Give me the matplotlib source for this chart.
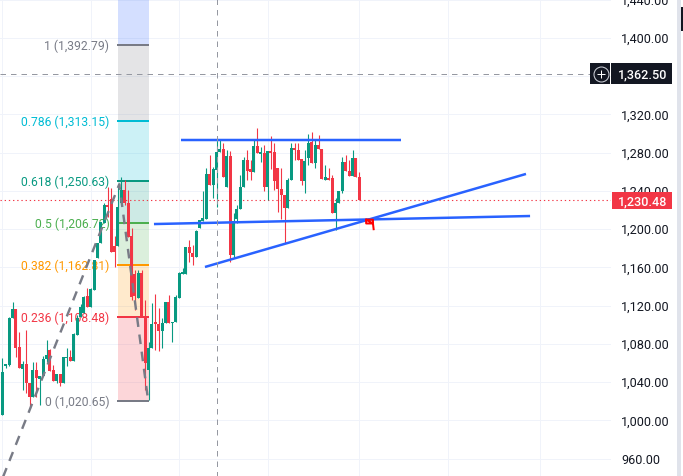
import matplotlib
matplotlib.use("Agg")
import matplotlib.pyplot as plt
from matplotlib.patches import Rectangle
from matplotlib.transforms import blended_transform_factory

plt.rcParams['font.family'] = ['Roboto', 'DejaVu Sans']

opens = [1006, 1057, 1058, 1107, 1117, 1077, 1054, 1059, 1039, 1024.5,
         1053, 1043.5, 1046.5, 1064, 1074, 1053, 1041, 1049, 1039, 1065,
         1066, 1062, 1089, 1108, 1112, 1130, 1119, 1136, 1170, 1186,
         1207, 1225, 1232, 1182.5, 1182.5, 1227, 1241, 1227, 1193, 1153,
         1128, 1154, 1108, 1053, 1076, 1103, 1101, 1093.5, 1102, 1124,
         1102, 1103, 1128, 1153, 1153, 1181, 1175, 1171, 1201, 1209,
         1211, 1258, 1246, 1262, 1281, 1284, 1244, 1277, 1173, 1211,
         1221, 1244, 1272, 1263, 1260, 1287, 1279, 1280, 1244, 1282,
         1281, 1264, 1242, 1236, 1222, 1251.5, 1285, 1283, 1273.5, 1250.5,
         1274.5, 1291, 1269, 1288, 1284, 1251.5, 1254, 1254, 1217, 1227,
         1240, 1270, 1261, 1256, 1274.5, 1255]
closes = [1051, 1059, 1107, 1117, 1076, 1055, 1059, 1039, 1024.5, 1053,
          1044, 1046.5, 1064, 1068.5, 1052, 1041, 1049, 1039, 1066, 1066,
          1062, 1090, 1107, 1119, 1129, 1119, 1137, 1168, 1186, 1208,
          1225, 1223, 1176, 1176, 1223, 1241, 1227, 1192, 1129, 1130,
          1154, 1108, 1060, 1076, 1101, 1101, 1093.5, 1102, 1124, 1102,
          1103, 1129, 1154, 1155, 1181, 1175, 1171, 1198, 1210, 1212,
          1258, 1246, 1263, 1281, 1284, 1255, 1277, 1173, 1209, 1221,
          1244, 1272, 1261, 1260, 1287, 1280, 1281, 1244, 1282, 1280,
          1250.5, 1242, 1236, 1222, 1251.5, 1285, 1283, 1272, 1250.5, 1271,
          1290, 1269, 1288, 1284, 1253, 1255, 1251.5, 1217, 1227, 1240,
          1270, 1261, 1256, 1274.5, 1255, 1230.5]
highs = [1065, 1059, 1108, 1124, 1117, 1092.5, 1062, 1094.5, 1039, 1061,
         1061, 1046.5, 1067.5, 1084, 1075, 1058, 1049, 1049, 1066, 1076,
         1074, 1091, 1110, 1122, 1130, 1138.5, 1138.5, 1168, 1186, 1208,
         1227, 1244, 1243, 1193, 1246, 1255, 1251.5, 1241, 1201, 1157,
         1157, 1157, 1126, 1082, 1123, 1132, 1118, 1107, 1124, 1131,
         1103, 1131, 1155, 1159, 1181, 1189, 1183.5, 1199, 1210, 1240,
         1264, 1278, 1265, 1293, 1293, 1290, 1283, 1282, 1217, 1225,
         1257, 1276, 1283, 1272, 1293, 1306, 1286, 1288, 1282, 1297.5,
         1290, 1264, 1264, 1236, 1254, 1290, 1290, 1290, 1273.5, 1283,
         1300, 1302, 1293, 1299, 1284, 1267, 1264, 1257, 1233, 1240,
         1276, 1278, 1272, 1283, 1274.5, 1260]
lows = [1006, 1055, 1057, 1107, 1066, 1055, 1032, 1029, 1013, 1024.5,
        1024.5, 1016, 1046.5, 1061, 1052, 1041, 1039, 1036, 1039, 1057,
        1062, 1062, 1089, 1108, 1112, 1119, 1119, 1136, 1170, 1186,
        1207, 1213, 1176, 1160.5, 1182.5, 1227, 1225, 1192, 1126, 1115.5,
        1128, 1108, 1032, 1021, 1076, 1074, 1073, 1076, 1102, 1102,
        1082, 1103, 1128, 1153, 1153, 1166, 1163, 1171, 1201, 1209,
        1211, 1246, 1233, 1223, 1281, 1255, 1244, 1166, 1170, 1207,
        1221, 1244, 1251.5, 1251.5, 1260, 1280, 1270, 1240, 1230.5, 1263,
        1241, 1218, 1211, 1186, 1222, 1251.5, 1272, 1272, 1246, 1238,
        1267, 1269, 1264, 1284, 1253, 1251.5, 1251.5, 1217, 1199, 1227,
        1238, 1261, 1256, 1256, 1255, 1230.5]

fib_ratios = ["0", "0.236", "0.382", "0.5", "0.618", "0.786", "1"]
fib_prices = [1020.65, 1108.48, 1162.81, 1206.72, 1250.63, 1313.15, 1392.79]
fib_colors = ["#787b86", "#f23645", "#ff9800", "#4caf50", "#089981", "#00bcd4", "#787b86"]
band_colors = ["#f23645", "#ff9800", "#4caf50", "#089981", "#00bcd4", "#787b86", "#2962ff"]

zigzag_x = [-2, 34.4, 42.9]
zigzag_y = [921, 1247, 1020.65]

top_line_x = [52.6, 117.3]
top_line_y = [1293.3, 1293.3]
mid_line_x = [44.6, 155.2]
mid_line_y = [1205.4, 1213.8]
rise_line_x = [59.6, 154]
rise_line_y = [1160.5, 1257.8]

mark_x = [107, 109, 109, 107, 107, 109, 109.2]
mark_y = [1210, 1210, 1206, 1206, 1210, 1206, 1200]

price_ticks = list(range(960, 1441, 40))
time_grid = [0, 26, 52, 78, 105, 131, 158]
cross_bar = 63
cross_price = 1362.5
last_price = 1230.48

up_col = "#089981"
down_col = "#f23645"
px = 0.72  # one pixel in points at dpi 100

fig = plt.figure(figsize=(6.83, 4.76), dpi=100, facecolor="white")
ax = fig.add_axes([0, -10 / 476, 611 / 683, 496 / 476])
ax.set_xlim(-0.676, 179.0)
ax.set_ylim(931.4, 1450.2)
for s in ax.spines.values():
    s.set_visible(False)

ax.set_xticks(time_grid)
ax.set_yticks(price_ticks)
ax.set_yticklabels([f"{p:,.2f}" for p in price_ticks])
ax.tick_params(axis="x", length=0, labelbottom=False)
ax.tick_params(axis="y", length=0, right=False, left=False, labelleft=False,
               labelright=True, pad=7.5, labelsize=9.1, labelcolor="#131722")
ax.grid(True, color="#f0f3fa", lw=1 * px)
ax.set_axisbelow(True)

# fib bands and levels
band_top = fib_prices[1:] + [1450.2]
for low, high, col in zip(fib_prices, band_top, band_colors):
    ax.add_patch(Rectangle((34, low), 9.15, high - low, fc=col, alpha=0.2, ec="none", zorder=1))
for ratio, price, col in zip(fib_ratios, fib_prices, fib_colors):
    ax.plot([33.6, 43.15], [price, price], color=col, lw=2 * px, zorder=1.6, solid_capstyle="butt")
    ax.text(31.5, price, f"{ratio} ({price:,.2f})", color=col, fontsize=8.7, ha="right",
            va="center_baseline", zorder=1.5)

ax.axhline(last_price, color=down_col, lw=1.1 * px, ls=(0, (1.2, 2.6)), zorder=2)

# candles
for i in range(len(opens)):
    col = up_col if closes[i] >= opens[i] else down_col
    ax.vlines(i, lows[i], highs[i], color=col, lw=1.1 * px, zorder=3)
    ax.bar(i, abs(closes[i] - opens[i]), bottom=min(opens[i], closes[i]), width=0.9,
           color=col, zorder=3.1, linewidth=0)

ax.plot(zigzag_x, zigzag_y, color="#787b86", lw=2.4 * px, dashes=(4, 3.2), zorder=4)
for xs, ys in [(top_line_x, top_line_y), (mid_line_x, mid_line_y), (rise_line_x, rise_line_y)]:
    ax.plot(xs, ys, color="#2962ff", lw=2.5 * px, zorder=4, solid_capstyle="butt")
ax.plot(mark_x, mark_y, color="#ff0000", lw=2 * px, zorder=5)

# crosshair
ax.axvline(cross_bar, color="#9598a1", lw=1 * px, dashes=(5.5, 5), zorder=4.5)
ax.plot([-0.676, 173], [cross_price, cross_price], color="#9598a1", lw=1 * px,
        dashes=(5.5, 5), zorder=4.5)

# price labels on the scale
trans = blended_transform_factory(ax.transAxes, ax.transData)
w_px = 1 / 611
ax.add_patch(Rectangle((1 + 1 * w_px, last_price - 8.9), 60 * w_px, 17.8, fc=down_col, ec="none",
                       transform=trans, clip_on=False, zorder=10))
ax.text(1 + 56 * w_px, last_price, f"{last_price:,.2f}", color="white", fontsize=9.1, ha="right",
        va="center_baseline", transform=trans, zorder=11, fontweight="medium")
ax.add_patch(Rectangle((1, cross_price - 11), 61 * w_px, 22, fc="#131722", ec="none",
                       transform=trans, clip_on=False, zorder=10))
ax.text(1 + 56 * w_px, cross_price, f"{cross_price:,.2f}", color="white", fontsize=9.1, ha="right",
        va="center_baseline", transform=trans, zorder=11, fontweight="medium")
ax.add_patch(Rectangle((1 - 21 * w_px, cross_price - 11), 20.2 * w_px, 22, fc="#131722", ec="none",
                       transform=trans, clip_on=False, zorder=10))

# plus button
ax.plot([1 - 10.5 * w_px], [cross_price], marker="o", ms=15 * px, mfc="none", mec="#d1d4dc",
        mew=1 * px, transform=trans, clip_on=False, zorder=12)
ax.plot([1 - 10.5 * w_px], [cross_price], marker="+", ms=8 * px, mec="white",
        mew=1 * px, transform=trans, clip_on=False, zorder=13)

# side strip in figure pixels
fig.add_artist(Rectangle((677 / 683, 0), 4 / 683, 1, transform=fig.transFigure, fc="#e0e3eb", ec="none"))
fig.add_artist(Rectangle((681 / 683, 1 - 31 / 476), 2 / 683, 24 / 476, transform=fig.transFigure,
                         fc="#131722", ec="none"))

fig.savefig("out.png", dpi=100)
